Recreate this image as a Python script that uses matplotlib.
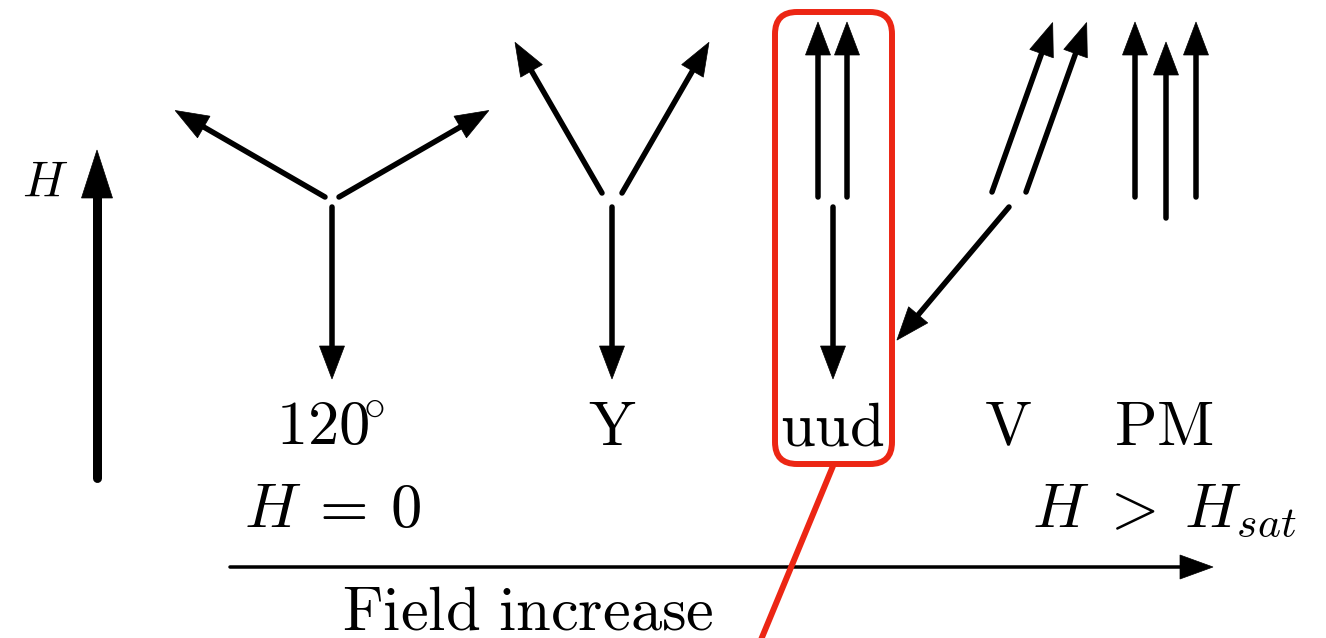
import numpy as np
import matplotlib
matplotlib.use("Agg")
import matplotlib.pyplot as plt
from matplotlib.patches import Polygon, FancyBboxPatch

plt.rcParams['mathtext.fontset'] = 'cm'
plt.rcParams['font.family'] = 'serif'

# spin states along the field axis
states = ['120', 'Y', 'uud', 'V', 'PM']
state_labels = [r'$120\!^{\circ}$', r'$\mathrm{Y}$', r'$\mathrm{uud}$', r'$\mathrm{V}$', r'$\mathrm{PM}$']

# spin directions (degrees, counter-clockwise from +x) and lengths per state
spin_angles = {
    '120': [150, 30, -90],
    'Y':   [120, 60, -90],
    'uud': [90, 90, -90],
    'V':   [70.3, 70.3, -130.1],
    'PM':  [90, 90, 90],
}
spin_lengths = {
    '120': [173, 173, 172],
    'Y':   [174, 174, 172],
    'uud': [175, 175, 172],
    'V':   [180, 180, 174],
    'PM':  [175, 176, 175],
}

# where each spin starts (pixels)
spin_tails = {
    '120': [(325, 197), (339, 197), (332, 207)],
    'Y':   [(602, 193), (622, 193), (612, 207)],
    'uud': [(818, 197), (847, 197), (833, 207)],
    'V':   [(992, 192), (1026, 192), (1009, 207)],
    'PM':  [(1135, 197), (1166, 218), (1196, 197)],
}
label_x = [330, 612, 832, 1008, 1164]

W, H = 1326, 638
fig = plt.figure(figsize=(W / 100, H / 100), dpi=100)
ax = fig.add_axes([0, 0, 1, 1])
ax.set_xlim(0, W)
ax.set_ylim(H, 0)
ax.axis('off')


def arrow(x0, y0, ang, length, lw_px, head_len, head_w, color='black'):
    a = np.deg2rad(ang)
    d = np.array([np.cos(a), -np.sin(a)])
    p = np.array([-d[1], d[0]])
    tail = np.array([x0, y0], dtype=float)
    tip = tail + length * d
    base = tip - head_len * d
    shaft_end = base + 2 * d
    ax.plot([tail[0], shaft_end[0]], [tail[1], shaft_end[1]], color=color,
            lw=lw_px * 0.72, solid_capstyle='round')
    ax.add_patch(Polygon([tip, base + p * head_w / 2, base - p * head_w / 2],
                         closed=True, facecolor=color, edgecolor=color, lw=0.5))


for s in states:
    for (x0, y0), ang, L in zip(spin_tails[s], spin_angles[s], spin_lengths[s]):
        arrow(x0, y0, ang, L, 5.5, 33, 25)

# field direction arrow
arrow(97, 478, 90, 328, 9, 48, 31)
ax.text(45, 196, r'$H$', fontsize=36, ha='center', va='baseline')

# field increase axis
arrow(230, 567, 0, 983, 3.5, 33, 24)

for lab, x in zip(state_labels, label_x):
    ax.text(x, 445, lab, fontsize=45, ha='center', va='baseline')

ax.text(333, 527, r'$H\:=\:0$', fontsize=45, ha='center', va='baseline')
ax.text(1164, 526, r'$H\;>\;H_{sat}$', fontsize=45, ha='center', va='baseline')
ax.text(528, 629, r'$\mathrm{Field\ increase}$', fontsize=45, ha='center', va='baseline')

# highlight of the uud plateau
red = '#ec2614'
box = FancyBboxPatch((775, 12), 117, 452, boxstyle='round,pad=0,rounding_size=22',
                     facecolor='none', edgecolor=red, lw=4.3)
ax.add_patch(box)
ax.plot([833, 758], [466, 647], color=red, lw=4.3, solid_capstyle='butt')

fig.savefig('out.png', dpi=100)
